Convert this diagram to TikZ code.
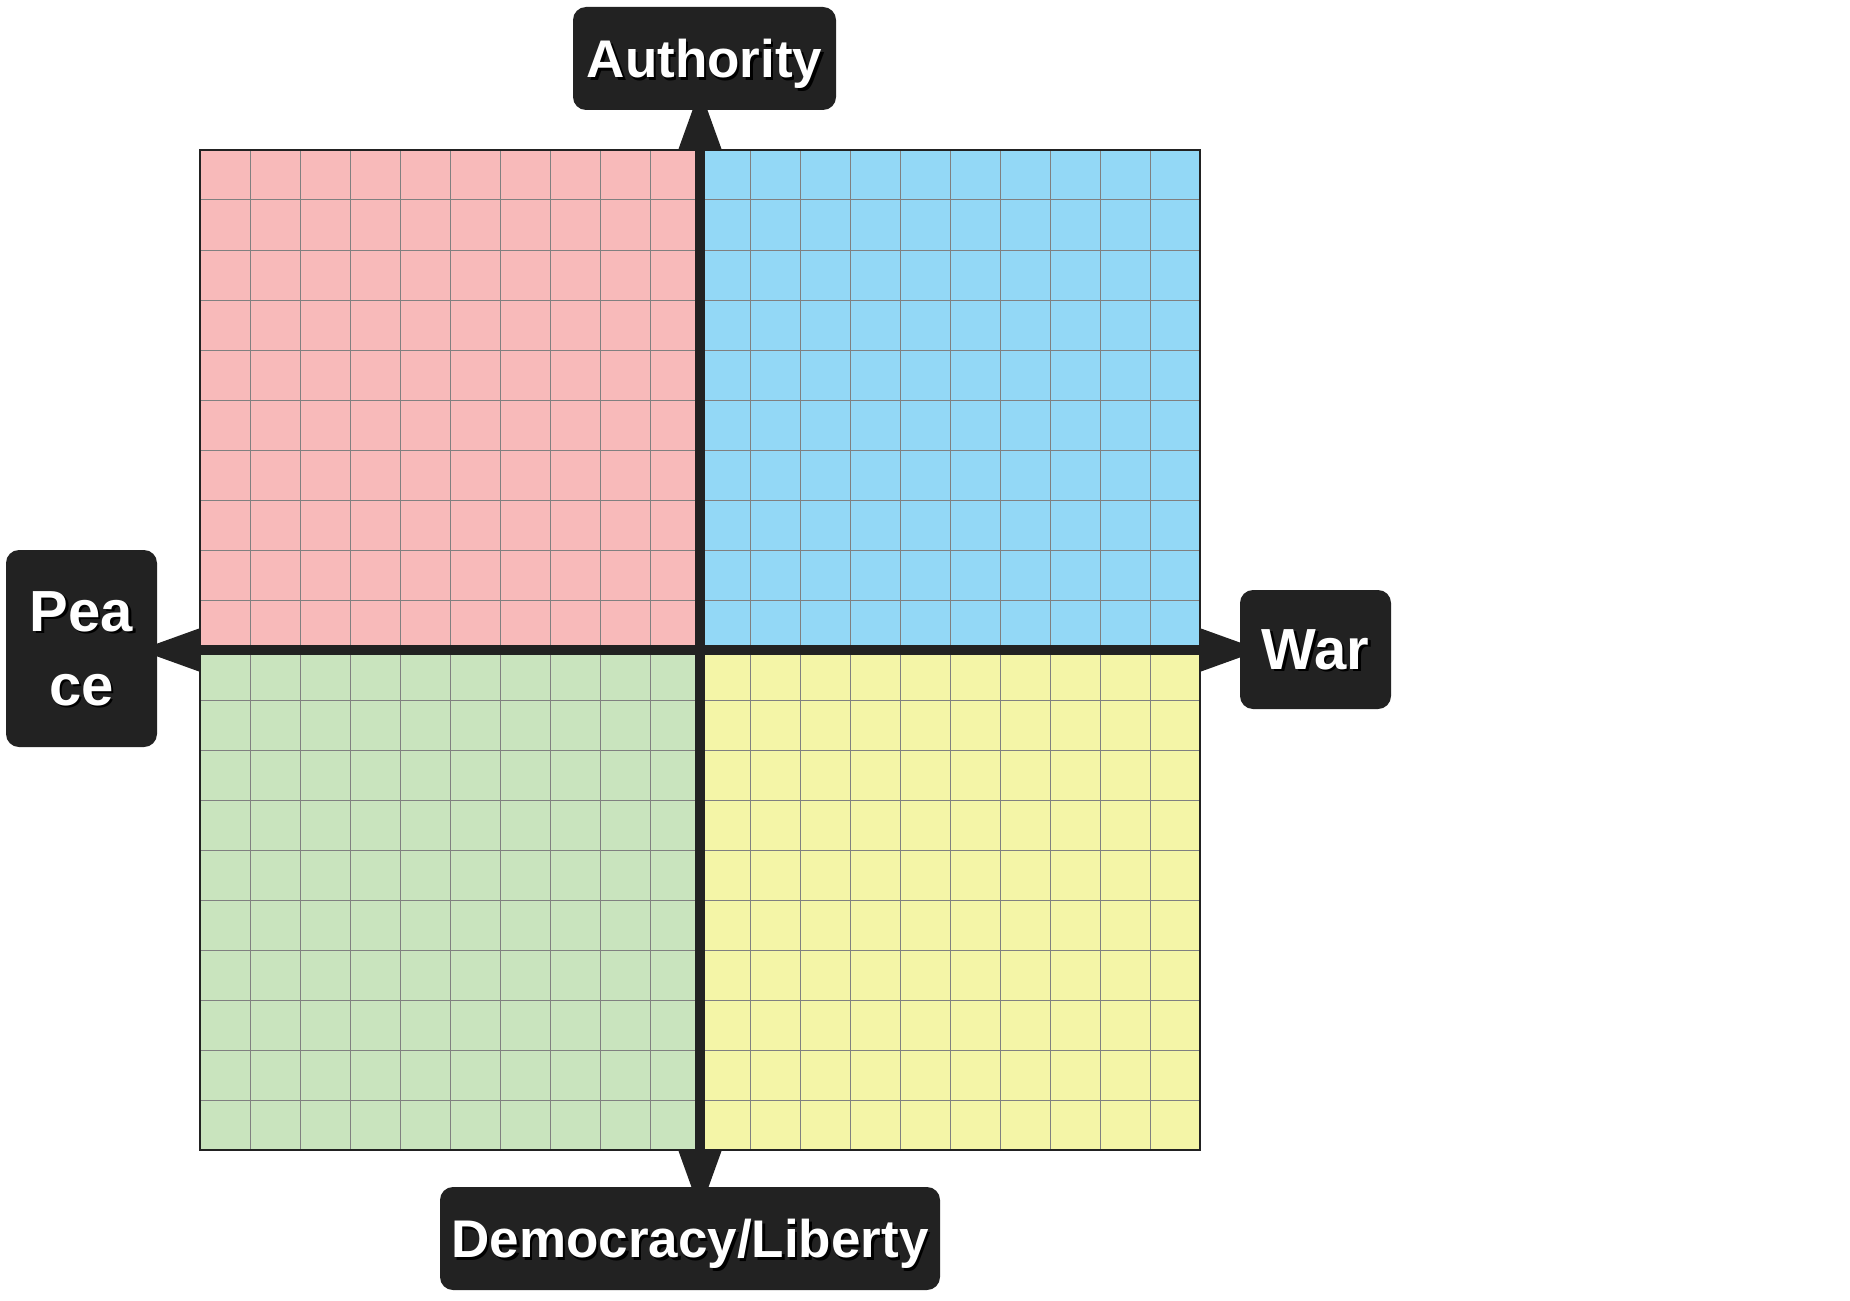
\documentclass[tikz,border=0pt]{standalone}
\usepackage{fontspec}
\setmainfont{Liberation Sans}
\usetikzlibrary{arrows.meta}
\definecolor{qpink}{HTML}{F8BABA}
\definecolor{qblue}{HTML}{93D8F6}
\definecolor{qgreen}{HTML}{C9E4BE}
\definecolor{qyellow}{HTML}{F4F5A7}
\definecolor{axisgray}{HTML}{222222}
\newcommand\shadowed[1]{\leavevmode\rlap{\kern1.2pt\raisebox{-1.2pt}{\textcolor{black}{#1}}}#1}

\begin{document}
\begin{tikzpicture}[x=0.5pt, y=-0.5pt,
  labelbox/.style={fill=axisgray, rounded corners=6.5pt, text=white, align=center, inner sep=0pt,
    text depth=0pt, font=\bfseries\fontsize{26.5}{32}\selectfont},
  bigbox/.style={labelbox, font=\bfseries\fontsize{29}{37}\selectfont},
  axis/.style={draw=axisgray, line width=5pt,
    -{Triangle[length=30.5pt, width=22pt, line width=0pt]}}]
  \useasboundingbox (0,0) rectangle (1850,1300);
  % quadrants
  \fill[qpink] (200,150) rectangle (700,650);
  \fill[qblue] (700,150) rectangle (1200,650);
  \fill[qgreen] (200,650) rectangle (700,1150);
  \fill[qyellow] (700,650) rectangle (1200,1150);
  \foreach \k in {1,...,19} {
    \draw[gray, line width=0.5pt] (200+50*\k,150) -- ++(0,1000);
    \draw[gray, line width=0.5pt] (200,150+50*\k) -- ++(1000,0);
  }
  \draw[axisgray, line width=0.6pt] (200,150) rectangle (1200,1150);
  \coordinate (o) at (700,650);
  % labels
  \node[labelbox, minimum width=131.5pt, minimum height=51.5pt] (auth) at (704.5,58.5) {\shadowed{Authority}};
  \node[labelbox, minimum width=250pt, minimum height=51.5pt] (dem) at (690,1238.5) {\shadowed{Democracy/Liberty}};
  \node[bigbox, minimum width=75.5pt, minimum height=98.5pt] (peace) at (81.5,648.5) {\shadowed{Pea}\\\shadowed{ce}};
  \node[bigbox, minimum width=75.5pt, minimum height=59.5pt] (war) at (1315.5,649.5) {\shadowed{War}};
  % axes, tips hidden in the boxes
  \draw[axis, shorten >=-10.5pt] (o) -- (o |- auth.south);
  \draw[axis, shorten >=-12pt] (o) -- (o |- dem.north);
  \draw[axis, shorten >=-9pt] (o) -- (o -| peace.east);
  \draw[axis, shorten >=-10.5pt] (o) -- (o -| war.west);
\end{tikzpicture}
\end{document}
